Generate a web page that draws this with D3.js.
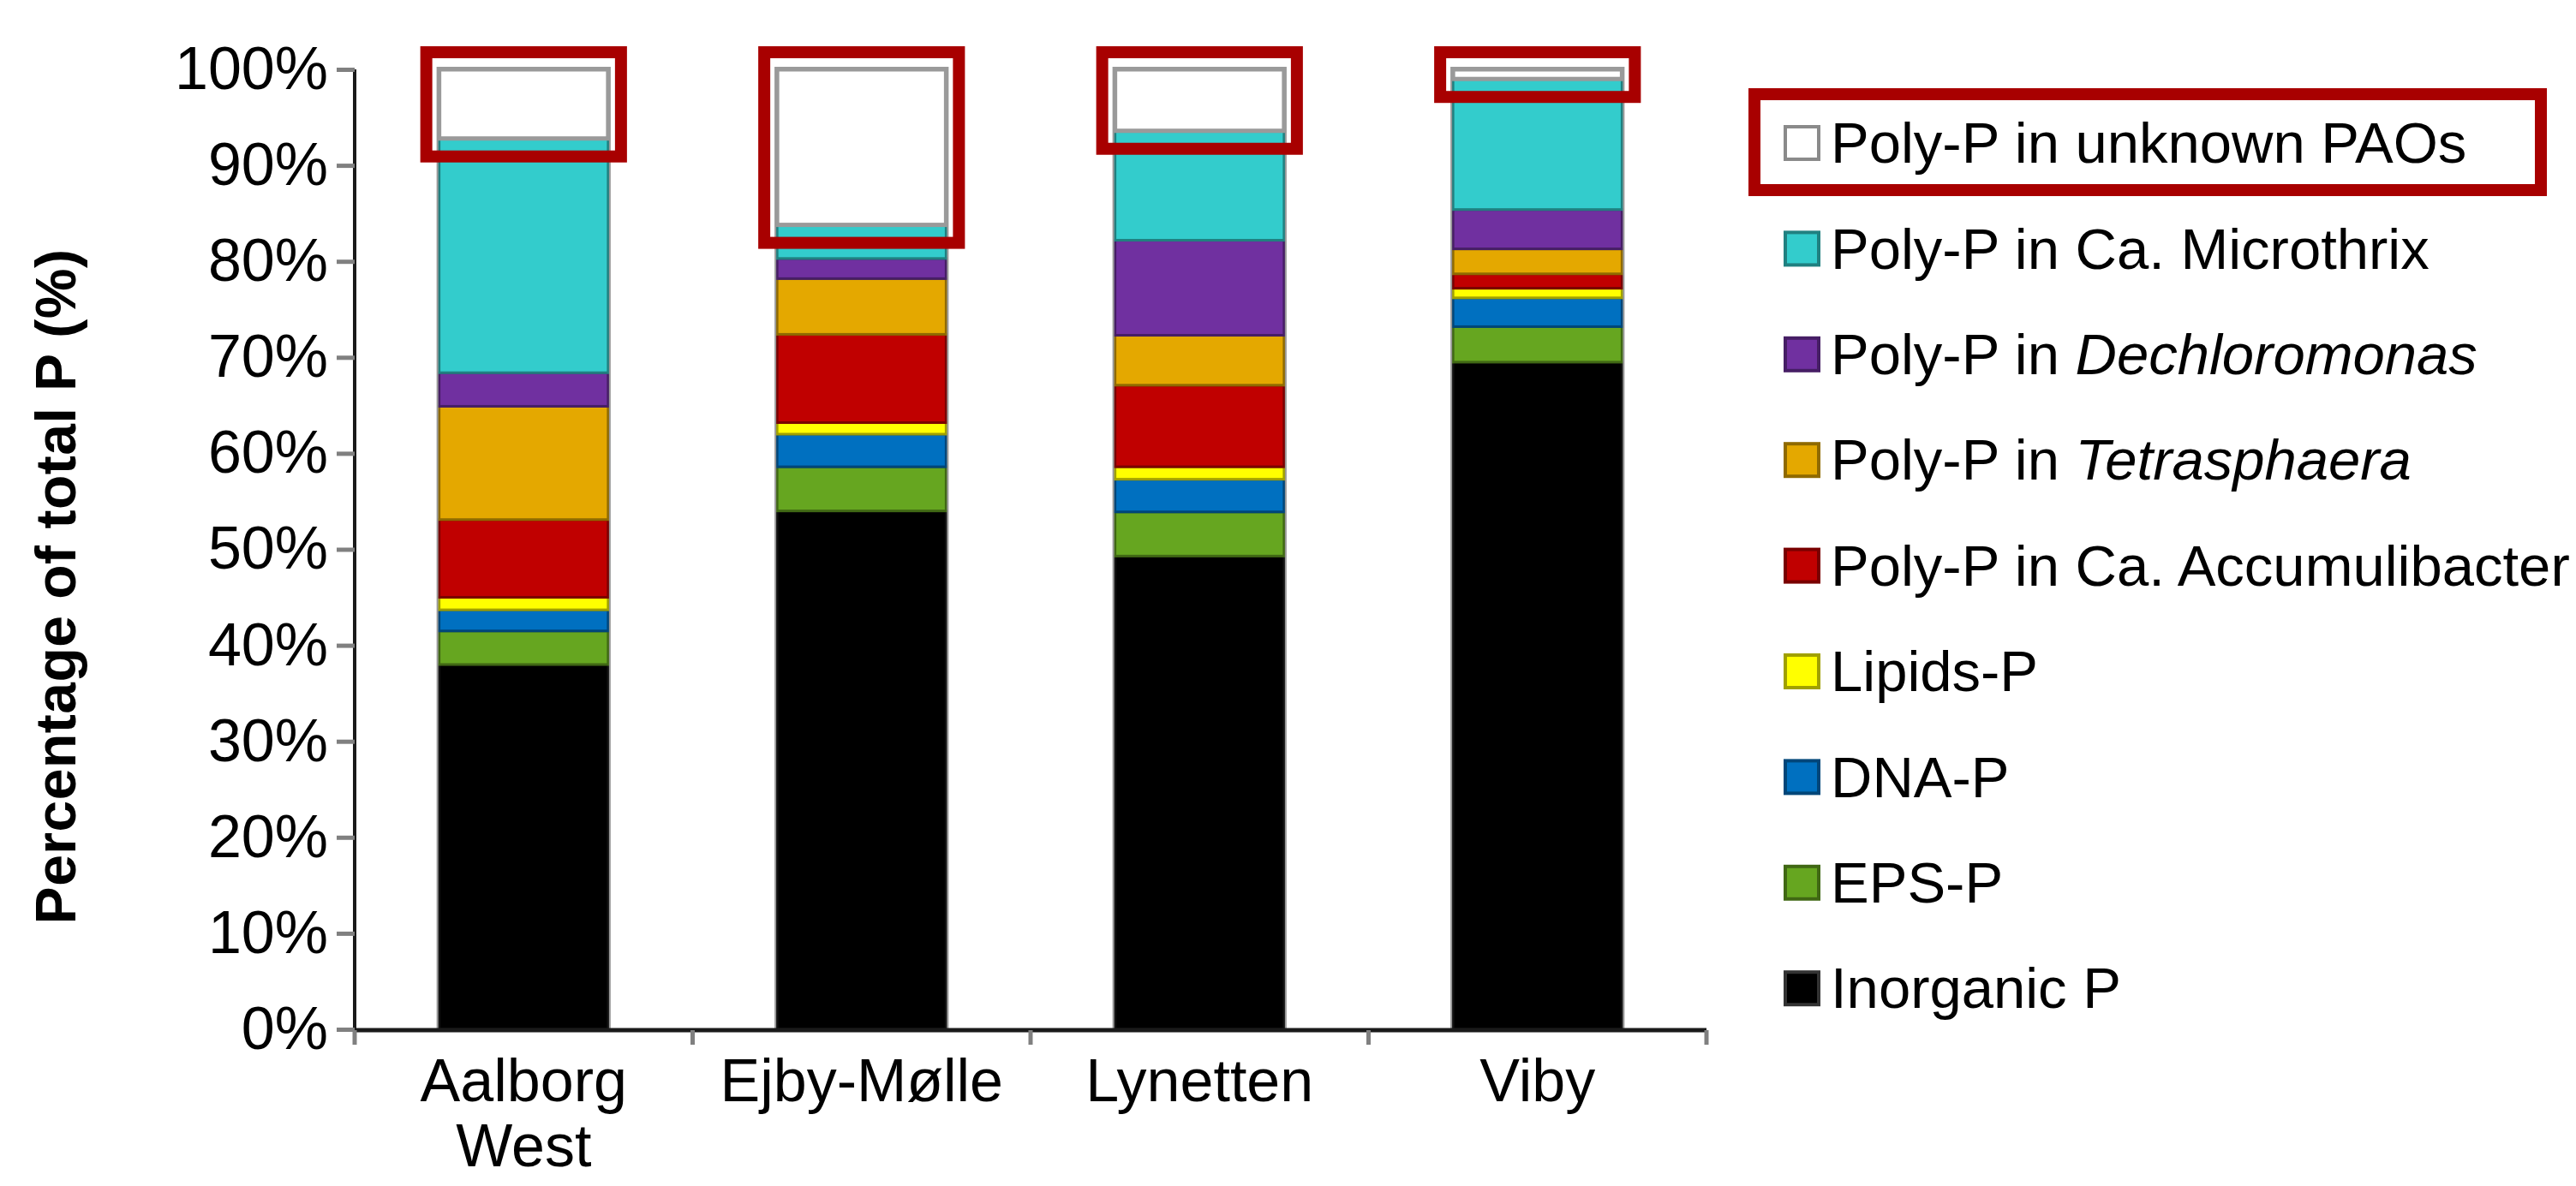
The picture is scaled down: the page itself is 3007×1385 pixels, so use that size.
<!DOCTYPE html>
<html>
<head>
<meta charset="utf-8">
<script src="https://cdn.jsdelivr.net/npm/d3@7"></script>
<style>
  html, body { margin: 0; padding: 0; background: #ffffff; }
  svg { display: block; font-family: "Liberation Sans", Arial, sans-serif; }
</style>
</head>
<body>
<svg id="chart" width="3007" height="1385"></svg>
<script>
// ---------------- data ----------------
const categories = ["Aalborg West", "Ejby-Mølle", "Lynetten", "Viby"];
const categoryLines = [["Aalborg", "West"], ["Ejby-Mølle"], ["Lynetten"], ["Viby"]];

// series, bottom to top of each bar
const seriesKeys = ["inorganic", "eps", "dna", "lipids", "accumulibacter", "tetrasphaera", "dechloromonas", "microthrix", "unknown"];

const inorganic      = [38.0, 54.0, 49.3, 69.5];
const eps            = [3.5, 4.6, 4.6, 3.7];
const dna            = [2.2, 3.4, 3.4, 3.0];
const lipids         = [1.3, 1.2, 1.3, 1.0];
const accumulibacter = [8.1, 9.2, 8.5, 1.5];
const tetrasphaera   = [11.8, 5.8, 5.2, 2.6];
const dechloromonas  = [3.5, 2.1, 9.9, 4.1];
const microthrix     = [24.4, 3.5, 11.4, 13.6];
const unknown        = [7.2, 16.2, 6.4, 1.0];

const seriesValues = [inorganic, eps, dna, lipids, accumulibacter, tetrasphaera, dechloromonas, microthrix, unknown];

const seriesColors = ["#000000", "#66a620", "#0070c0", "#ffff00", "#c00000", "#e4a800", "#7030a0", "#33cccc", "#ffffff"];

// legend (top to bottom) : [plain prefix, italic part, plain suffix]
const legendOrder = ["unknown", "microthrix", "dechloromonas", "tetrasphaera", "accumulibacter", "lipids", "dna", "eps", "inorganic"];
const legendLabels = [
  ["Poly-P in unknown PAOs", "", ""],
  ["Poly-P in Ca. Microthrix", "", ""],
  ["Poly-P in ", "Dechloromonas", ""],
  ["Poly-P in ", "Tetrasphaera", ""],
  ["Poly-P in Ca. Accumulibacter", "", ""],
  ["Lipids-P", "", ""],
  ["DNA-P", "", ""],
  ["EPS-P", "", ""],
  ["Inorganic P", "", ""]
];

const yTicks = [0, 10, 20, 30, 40, 50, 60, 70, 80, 90, 100];
const yTitle = "Percentage of total P (%)";

// ---------------- chart ----------------
const svg = d3.select("#chart");

const table = categories.map((c, i) => {
  const row = { category: c };
  seriesKeys.forEach((k, j) => { row[k] = seriesValues[j][i]; });
  return row;
});
const stacked = d3.stack().keys(seriesKeys)(table);
const colorOf = d3.scaleOrdinal().domain(seriesKeys).range(seriesColors);

const x = d3.scaleBand().domain(categories).range([414, 1992]).paddingInner(0.5).paddingOuter(0.25);
const y = d3.scaleLinear().domain([0, 100]).range([1202, 81]);

// y axis
const yAxis = d3.axisLeft(y).tickValues(yTicks).tickFormat(d => d + "%").tickSize(21).tickPadding(10);
const gy = svg.append("g").attr("transform", "translate(414,0)").call(yAxis);
gy.select(".domain").attr("stroke", "#1a1a1a").attr("stroke-width", 4).attr("d", `M0,${y(100)}V${y(0)}`);
gy.selectAll(".tick line").attr("stroke", "#808080").attr("stroke-width", 5);
gy.selectAll(".tick text").attr("font-size", 70).attr("fill", "#000")
  .attr("font-family", "'Liberation Sans', Arial, sans-serif");

// y title
svg.append("text")
  .attr("transform", `translate(65,685) rotate(-90)`)
  .attr("text-anchor", "middle")
  .attr("dy", "0.35em")
  .attr("font-size", 66)
  .attr("font-weight", "bold")
  .attr("letter-spacing", 0.5)
  .text(yTitle);

// bars
const layers = svg.append("g").selectAll("g.layer").data(stacked).join("g").attr("class", "layer");
layers.selectAll("rect").data(d => d.map(v => ({ key: d.key, v, cat: v.data.category })))
  .join("rect")
  .attr("x", d => x(d.cat))
  .attr("width", x.bandwidth())
  .attr("y", d => y(d.v[1]))
  .attr("height", d => y(d.v[0]) - y(d.v[1]))
  .attr("fill", d => colorOf(d.key))
  .attr("stroke", d => d.key === "unknown" ? "#9a9a9a" : d.key === "inorganic" ? "#111" : d3.color(colorOf(d.key)).darker(1.3))
  .attr("stroke-width", d => d.key === "unknown" ? 5 : 3);

// grey outline around each bar
svg.append("g").selectAll("rect").data(categories).join("rect")
  .attr("x", d => x(d) - 2)
  .attr("width", x.bandwidth() + 4)
  .attr("y", y(100) - 2)
  .attr("height", y(0) - y(100) + 2)
  .attr("fill", "none")
  .attr("stroke", "#9a9a9a")
  .attr("stroke-width", 2);

// x axis
const xAxisLine = svg.append("g");
xAxisLine.append("path")
  .attr("d", `M414,${y(0) + 1}H1992`)
  .attr("stroke", "#1a1a1a").attr("stroke-width", 5).attr("fill", "none");
const xTickPos = [414].concat(categories.map(c => x(c) + x.bandwidth() / 2 + x.step() / 2));
xAxisLine.selectAll("line").data(xTickPos).join("line")
  .attr("x1", d => d).attr("x2", d => d)
  .attr("y1", y(0) + 1).attr("y2", y(0) + 18)
  .attr("stroke", "#808080").attr("stroke-width", 5);

// x labels
const xl = svg.append("g").selectAll("text").data(categories).join("text")
  .attr("text-anchor", "middle")
  .attr("font-size", 70)
  .attr("fill", "#000");
xl.each(function (c, i) {
  const t = d3.select(this);
  categoryLines[i].forEach((line, k) => {
    t.append("tspan")
      .attr("x", x(c) + x.bandwidth() / 2)
      .attr("y", 1286 + k * 76)
      .text(line);
  });
});

// red highlight boxes around unknown PAOs segments
const unknownLayer = stacked.find(s => s.key === "unknown");
svg.append("g").selectAll("rect").data(unknownLayer).join("rect")
  .attr("x", d => x(d.data.category) - 15)
  .attr("width", x.bandwidth() + 30)
  .attr("y", d => y(d[1]) - 20)
  .attr("height", d => (y(d[0]) + 21) - (y(d[1]) - 20))
  .attr("fill", "none")
  .attr("stroke", "#a80000")
  .attr("stroke-width", 14);

// legend
const legendY0 = 166, legendStep = 123.4;
const legend = svg.append("g");
legendOrder.forEach((k, i) => {
  const cy = legendY0 + i * legendStep;
  const col = colorOf(k);
  legend.append("rect")
    .attr("x", 2084).attr("y", cy - 18)
    .attr("width", 39).attr("height", 38)
    .attr("fill", col)
    .attr("stroke", k === "unknown" ? "#8a8a8a" : k === "inorganic" ? "#333" : d3.color(col).darker(1.3))
    .attr("stroke-width", 4);
  const t = legend.append("text")
    .attr("x", 2137).attr("y", cy)
    .attr("dy", "0.36em")
    .attr("font-size", 67)
    .attr("fill", "#000");
  const parts = legendLabels[i];
  if (parts[0]) t.append("tspan").text(parts[0]);
  if (parts[1]) t.append("tspan").attr("font-style", "italic").text(parts[1]);
  if (parts[2]) t.append("tspan").text(parts[2]);
});

// red box around first legend entry
svg.append("rect")
  .attr("x", 2048).attr("y", 110)
  .attr("width", 918).attr("height", 112)
  .attr("fill", "none")
  .attr("stroke", "#a80000")
  .attr("stroke-width", 14);
</script>
</body>
</html>
